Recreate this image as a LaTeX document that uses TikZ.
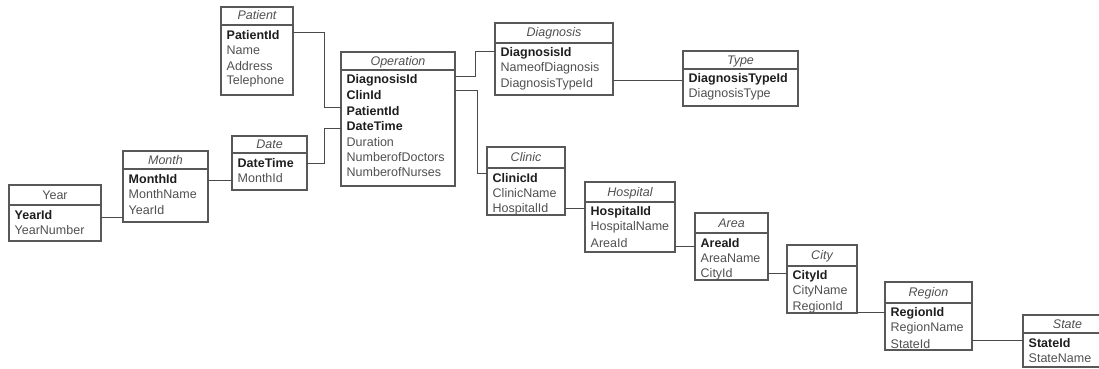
\documentclass[tikz,border=0pt]{standalone}
\usepackage{fontspec}
\setmainfont{Liberation Sans}
\usetikzlibrary{calc}

\definecolor{boxline}{HTML}{585858}
\definecolor{attrtext}{HTML}{505050}
\definecolor{keytext}{HTML}{1E1E1E}
\definecolor{linkline}{HTML}{4A4A4A}

\tikzset{
  entbox/.style={draw=boxline, line width=1.1pt, inner sep=0pt, outer sep=0pt, anchor=north west},
  divline/.style={draw=boxline, line width=1.3pt},
  enttitle/.style={inner sep=0pt, text=attrtext, font=\fontsize{12.5}{15}\selectfont\itshape},
  entrow/.style={inner sep=0pt, anchor=west, text=attrtext, font=\fontsize{12.5}{15}\selectfont},
  link/.style={draw=linkline, line width=1pt}
}
\newcommand\keyfield[1]{\textbf{\color{keytext}#1}}

% \erentity{name}{left}{top}{right}{bottom}{divider}{title}{rows}
\newcommand\erentity[8]{%
  \node[entbox, minimum width=#4pt-#2pt, minimum height=#5pt-#3pt] (#1) at (#2,#3) {};
  \draw[divline] (#1.west |- 0,#6) -- (#1.east |- 0,#6);
  \node[enttitle] (#1-title) at ({(#2+#4)/2},{(#3+#6)/2+1}) {\strut #7};
  \foreach \fld [count=\i] in {#8} {
    \node[entrow] (#1-\i) at ({#2+5.5},{#6+10+15.4*(\i-1)}) {\fld};
  }
}

\begin{document}
\begin{tikzpicture}[x=1pt, y=-1pt]
  \useasboundingbox (0,0) rectangle (1099,369);
  \clip (0,0) rectangle (1099,369);

  % entities
  \erentity{year}{9}{185}{101}{241}{205}{\upshape Year}{\keyfield{YearId}, YearNumber}
  \erentity{month}{123}{151}{208}{222}{169}{Month}{\keyfield{MonthId}, MonthName, YearId}
  \erentity{date}{232}{136}{307}{190}{153}{Date}{\keyfield{DateTime}, MonthId}
  \erentity{patient}{221}{7}{293}{95}{25}{Patient}{\keyfield{PatientId}, Name, Address, Telephone}
  \erentity{operation}{341}{52}{455}{186}{70}{Operation}{\keyfield{DiagnosisId}, \keyfield{ClinId}, \keyfield{PatientId}, \keyfield{DateTime}, Duration, NumberofDoctors, NumberofNurses}
  \erentity{diagnosis}{495}{23}{613}{95}{43}{Diagnosis}{\keyfield{DiagnosisId}, NameofDiagnosis, DiagnosisTypeId}
  \erentity{type}{683}{51}{798}{106}{69}{Type}{\keyfield{DiagnosisTypeId}, DiagnosisType}
  \erentity{clinic}{487}{147}{565}{215}{168}{Clinic}{\keyfield{ClinicId}, ClinicName, HospitalId}
  \erentity{hospital}{585}{182}{675}{252}{202}{Hospital}{\keyfield{HospitalId}, HospitalName, AreaId}
  \erentity{area}{695}{213}{768}{280}{233}{Area}{\keyfield{AreaId}, AreaName, CityId}
  \erentity{city}{787}{245}{857}{313}{266}{City}{\keyfield{CityId}, CityName, RegionId}
  \erentity{region}{885}{282}{972}{350}{303}{Region}{\keyfield{RegionId}, RegionName, StateId}
  \erentity{state}{1023}{315}{1112}{367}{333}{State}{\keyfield{StateId}, StateName}

  % relationships
  \draw[link] (year.east |- 0,217) -- (month.west |- 0,217);
  \draw[link] (month.east |- 0,180) -- (date.west |- 0,180);
  \draw[link] (date.east |- 0,163) -- ++(17,0) |- (operation.west |- 0,128);
  \draw[link] (patient.east |- 0,33) -- ++(31,0) |- (operation.west |- 0,107);
  \draw[link] (operation.east |- 0,76) -- ++(20,0) |- (diagnosis.west |- 0,52);
  \draw[link] (operation.east |- 0,90) -- ++(22,0) |- (clinic.west |- 0,173);
  \draw[link] (diagnosis.east |- 0,80) -- (type.west |- 0,80);
  \draw[link] (clinic.east |- 0,208) -- (hospital.west |- 0,208);
  \draw[link] (hospital.east |- 0,246) -- (area.west |- 0,246);
  \draw[link] (area.east |- 0,273) -- (city.west |- 0,273);
  \draw[link] (city.east |- 0,312) -- (region.west |- 0,312);
  \draw[link] (region.east |- 0,340) -- (state.west |- 0,340);
\end{tikzpicture}
\end{document}
